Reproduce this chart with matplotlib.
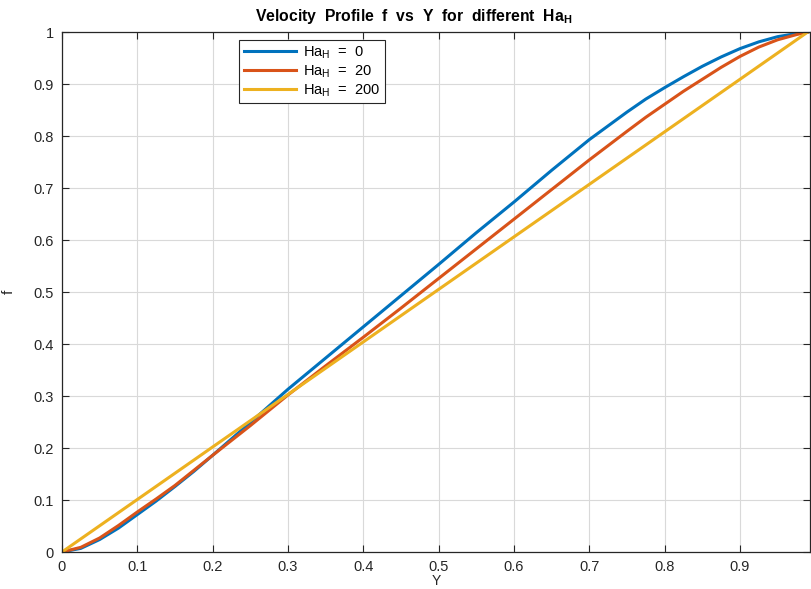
import matplotlib
matplotlib.use("Agg")
import matplotlib.pyplot as plt

# Velocity profiles f(Y) for three Hartmann numbers
y_pts = [0.0, 0.025, 0.05, 0.075, 0.1, 0.125, 0.15, 0.175, 0.2, 0.25, 0.3,
         0.35, 0.4, 0.45, 0.5, 0.55, 0.6, 0.65, 0.7, 0.75, 0.775, 0.8, 0.825,
         0.85, 0.875, 0.9, 0.925, 0.95, 0.975, 0.99]
f_ha0 = [0.0, 0.007, 0.024, 0.046, 0.072, 0.098, 0.126, 0.155, 0.186, 0.249,
         0.313, 0.373, 0.433, 0.493, 0.553, 0.614, 0.673, 0.734, 0.793, 0.846,
         0.871, 0.893, 0.914, 0.934, 0.952, 0.968, 0.981, 0.991, 0.997, 1.0]
f_ha20 = [0.0, 0.009, 0.027, 0.051, 0.077, 0.102, 0.128, 0.157, 0.186, 0.243,
          0.302, 0.358, 0.413, 0.469, 0.526, 0.583, 0.640, 0.697, 0.754,
          0.809, 0.836, 0.861, 0.886, 0.909, 0.932, 0.953, 0.971, 0.985,
          0.995, 1.0]
y_lin = [0.0, 0.1, 0.2, 0.3, 0.4, 0.5, 0.6, 0.7, 0.8, 0.9, 0.99]
f_ha200 = [0.0, 0.101, 0.202, 0.303, 0.404, 0.505, 0.606, 0.707, 0.808,
           0.909, 1.0]

labels = [r"Ha$_\mathregular{H}$  =  0", r"Ha$_\mathregular{H}$  =  20",
          r"Ha$_\mathregular{H}$  =  200"]
colors = ["#0072BD", "#D95319", "#EDB120"]

plt.rcParams["font.family"] = ["Liberation Sans", "DejaVu Sans"]
plt.rcParams["mathtext.fontset"] = "custom"
plt.rcParams["mathtext.rm"] = "Liberation Sans"
plt.rcParams["mathtext.bf"] = "Liberation Sans:bold"

fig = plt.figure(figsize=(8.11, 5.89), dpi=100)
ax = fig.add_axes([62 / 811, 37 / 589, 748 / 811, 520 / 589])

ax.plot(y_pts, f_ha0, color=colors[0], lw=2.2, label=labels[0])
ax.plot(y_pts, f_ha20, color=colors[1], lw=2.2, label=labels[1])
ax.plot(y_lin, f_ha200, color=colors[2], lw=2.2, label=labels[2])

ax.set_xlim(0, 0.993)
ax.set_ylim(0, 1)
ax.set_xticks([0, 0.1, 0.2, 0.3, 0.4, 0.5, 0.6, 0.7, 0.8, 0.9])
ax.set_xticklabels(["0", "0.1", "0.2", "0.3", "0.4", "0.5", "0.6", "0.7", "0.8", "0.9"])
ax.set_yticks([0, 0.1, 0.2, 0.3, 0.4, 0.5, 0.6, 0.7, 0.8, 0.9, 1])
ax.set_yticklabels(["0", "0.1", "0.2", "0.3", "0.4", "0.5", "0.6", "0.7", "0.8", "0.9", "1"])

ax.grid(True, color="#d9d9d9", lw=0.8)
ax.set_axisbelow(True)
ax.tick_params(direction="in", length=5, width=0.8, colors="#262626",
               labelsize=10.5, top=True, right=True, pad=6)
for sp in ax.spines.values():
    sp.set_color("#262626")
    sp.set_linewidth(0.9)

ax.set_xlabel("Y", fontsize=10, color="#262626", labelpad=0)
ax.set_ylabel("f", fontsize=11, color="#262626")
ax.yaxis.set_label_coords(-0.062, 0.5)
ax.set_title(r"Velocity  Profile  f  vs  Y  for  different  Ha$_\mathbf{H}$",
             fontsize=11.3, fontweight="bold", pad=8, x=0.47)

leg = ax.legend(loc="upper left", bbox_to_anchor=(0.237, 0.985), fontsize=10.5,
                handlelength=3.6, handletextpad=0.5, labelspacing=0.15,
                borderpad=0.3, fancybox=False, framealpha=1, borderaxespad=0)
leg.get_frame().set_edgecolor("#262626")
leg.get_frame().set_linewidth(0.8)

fig.savefig("out.png", dpi=100)
